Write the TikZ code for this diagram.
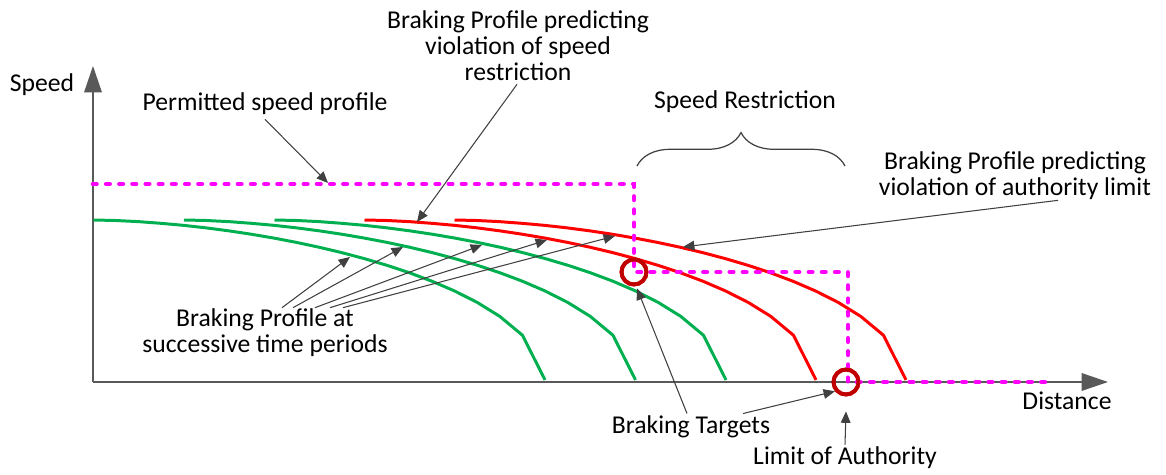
\documentclass[tikz,border=0pt]{standalone}
\usepackage{fontspec}
\setmainfont{Carlito}
\usepackage{xcolor}
\usetikzlibrary{arrows.meta,decorations.pathreplacing,calc}
\definecolor{verde}{HTML}{00B050}
\definecolor{rojo}{HTML}{FF0000}
\definecolor{fucsia}{HTML}{FF00FF}
\definecolor{granate}{HTML}{C00000}
\definecolor{gris}{HTML}{404040}
\definecolor{ejegris}{HTML}{595959}
\begin{document}
\begin{tikzpicture}[x=0.02cm, y=-0.02cm, font=\fontsize{14.6}{14.8}\selectfont,
  etiq/.style={align=center, inner sep=0pt},
  flecha/.style={gris, line width=0.6pt, -{Triangle[length=6.5pt, width=5.5pt]}},
  eje/.style={ejegris, line width=0.85pt, -{Triangle[length=15pt, width=10pt]}},
  perfil/.style={line width=1.7pt, line join=round},
  permitido/.style={fucsia, line width=2.6pt, dash pattern=on 2pt off 5.5pt, line cap=round},
  objetivo/.style={draw=granate, line width=2.2pt, circle, inner sep=0pt, minimum size=0.5cm}]
  \useasboundingbox (0,0) rectangle (1166,475);
  % ejes
  \coordinate (origen) at (93,382);
  \draw[eje] (origen) -- (93,66);
  \draw[eje] (origen) -- (1108,382);
  \node[etiq] (velocidad) at (42,85) {Speed};
  \node[etiq] (distancia) at (1067,401) {Distance};
  % curvas de frenado
  \foreach \s/\c in {0/verde, 90.5/verde, 181/verde, 271/rojo, 361/rojo}
    \draw[perfil, \c] plot[domain=0.5:452, samples=21]
      ({93+\s+\x}, {382-162*sqrt(max(0,1-(\x/452)^1.7))});
  % perfil permitido y objetivos
  \node[objetivo] (obj1) at (634,272) {};
  \node[objetivo] (obj2) at (846,382) {};
  \draw[permitido] (93,184) -| (obj1.center) -| (848,382) -- (1045,382);
  \node[objetivo] at (obj1) {};
  \node[objetivo] at (obj2) {};
  % restriccion
  \draw[gris, line width=0.7pt, decorate, decoration={brace, amplitude=19pt}] (637,166) -- (845,166);
  \node[etiq] (restric) at (745,102) {Speed Restriction};
  % etiquetas
  \node[etiq] (permit) at (265,104) {Permitted speed profile};
  \node[etiq] (violvel) at (518,46) {Braking Profile predicting\\violation of speed\\restriction};
  \node[etiq] (violaut) at (1015,176) {Braking Profile predicting\\violation of authority limit};
  \node[etiq] (sucesivos) at (265,333) {Braking Profile at\\successive time periods};
  \node[etiq] (objetivos) at (691,427) {Braking Targets};
  \node[etiq] (limite) at (845,458) {Limit of Authority};
  % puntas de flecha sobre las curvas
  \coordinate (pperm) at (328,183);
  \coordinate (pvel) at (417,222);
  \coordinate (paut) at (683,247);
  \coordinate (p1) at (350,257);
  \coordinate (p2) at (403,247);
  \coordinate (p3) at (482,245);
  \coordinate (p4) at (547,240);
  \coordinate (p5) at (615,236);
  \draw[flecha] ($(permit.south)+(0,4)$) -- (pperm);
  \draw[flecha] ($(violvel.south)+(-1,3)$) -- (pvel);
  \draw[flecha] ($(violaut.south)+(43,0)$) -- (paut);
  \foreach \dx/\p in {17/p1, 28/p2, 50/p3, 65/p4, 78/p5}
    \draw[flecha] ($(sucesivos.north)+(\dx,-1)$) -- (\p);
  \draw[flecha] ($(objetivos.north)+(-4,-2)$) -- ($(obj1.south)+(3,2)$);
  \draw[flecha] ($(objetivos.north)+(52,-2)$) -- (obj2.220);
  \draw[flecha] ($(limite.north)+(0,-2)$) -- ($(obj2.south)+(0,15)$);
\end{tikzpicture}
\end{document}
